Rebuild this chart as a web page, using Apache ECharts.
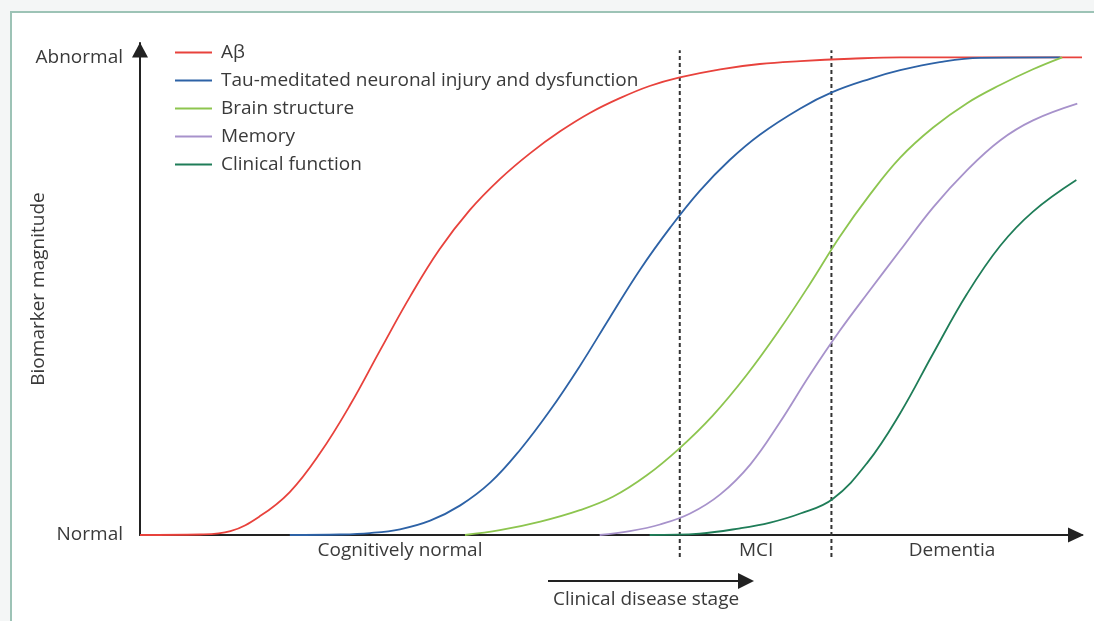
<!DOCTYPE html>
<html>
<head>
<meta charset="utf-8">
<title>Biomarker model</title>
<script src="https://cdn.jsdelivr.net/npm/echarts@6/dist/echarts.min.js"></script>
<style>
  html, body { margin: 0; padding: 0; background: #f4f6f6; }
  #chart { width: 1094px; height: 621px; }
</style>
</head>
<body>
<div id="chart"></div>
<script>
// x = disease stage (0..100 along the axis), y = biomarker magnitude (0 normal, 1 abnormal)
const abeta = [
  [0, 0], [6.4, 0.001], [9.6, 0.008], [12.7, 0.039], [15.9, 0.09], [19.1, 0.171],
  [22.3, 0.272], [25.5, 0.387], [28.7, 0.5], [31.8, 0.598], [35.0, 0.68],
  [38.2, 0.745], [41.4, 0.799], [44.6, 0.845], [47.8, 0.884], [51.0, 0.915],
  [54.1, 0.94], [57.3, 0.958], [61.6, 0.975], [65.8, 0.986], [70.1, 0.992],
  [75.4, 0.997], [80.7, 1.0], [90.0, 1.0], [100, 1.0]
]
const tau = [
  [15.9, 0], [21.2, 0.001], [24.4, 0.004], [27.6, 0.012], [30.8, 0.03], [34.0, 0.062],
  [37.2, 0.11], [40.3, 0.177], [43.5, 0.26], [46.7, 0.354], [49.9, 0.456],
  [53.1, 0.556], [56.3, 0.644], [59.4, 0.72], [62.6, 0.785], [65.8, 0.838],
  [70.1, 0.893], [73.5, 0.927], [77.5, 0.955], [80.7, 0.973], [84.9, 0.99],
  [89.2, 0.999], [97.7, 1.0]
]
const brain = [
  [34.5, 0], [38.2, 0.01], [42.5, 0.028], [46.7, 0.052], [50.2, 0.08], [53.8, 0.125],
  [57.3, 0.182], [60.8, 0.25], [64.4, 0.335], [67.9, 0.43], [71.1, 0.525],
  [74.3, 0.625], [77.5, 0.713], [80.7, 0.79], [84.2, 0.853], [87.8, 0.904],
  [91.3, 0.942], [94.8, 0.975], [97.9, 1.0]
]
const memory = [
  [48.8, 0], [52.0, 0.008], [55.2, 0.022], [58.4, 0.045], [61.6, 0.085], [64.8, 0.148],
  [67.9, 0.235], [71.1, 0.335], [74.3, 0.428], [77.5, 0.513], [80.7, 0.596],
  [84.2, 0.686], [87.8, 0.764], [91.3, 0.826], [94.8, 0.868], [99.5, 0.903]
]
const clinical = [
  [54.1, 0], [59.4, 0.003], [63.7, 0.014], [66.9, 0.026], [70.1, 0.045], [73.5, 0.075],
  [77.2, 0.151], [80.7, 0.255], [84.2, 0.38], [87.8, 0.505], [91.3, 0.605],
  [94.8, 0.677], [99.4, 0.743]
]

const seriesNames  = ['Aβ', 'Tau-meditated neuronal injury and dysfunction', 'Brain structure', 'Memory', 'Clinical function']
const seriesColors = ['#e8423c', '#2d62a6', '#8dc54f', '#a792cb', '#1f7d58']
const seriesData   = [abeta, tau, brain, memory, clinical]

// stage boundaries and labels
const stageBounds  = [57.3, 73.4]
const stageCentres = [27.6, 65.4, 86.2]
const stageNames   = ['Cognitively normal', 'MCI', 'Dementia']
const levelValues  = [0, 1]
const levelNames   = ['Normal', 'Abnormal']

const FONT = '"Open Sans", "Noto Sans", sans-serif'
const TEXT = '#3a3a3a'
const FS   = 19

const chart = echarts.init(document.getElementById('chart'))

const curves = seriesData.map((d, i) => ({
  name: seriesNames[i],
  type: 'line',
  data: d,
  smooth: 0.4,
  symbol: 'none',
  lineStyle: { color: seriesColors[i], width: 1.8 },
  itemStyle: { color: seriesColors[i] },
  z: 3 + i,
}))

// dashed stage boundaries, running a little below the x axis
const bounds = stageBounds.map(x => ({
  type: 'line',
  data: [[x, -0.046], [x, 1.015]],
  symbol: 'none',
  clip: false,
  silent: true,
  lineStyle: { color: '#333', width: 2, type: [4, 3] },
  z: 2,
}))

chart.setOption({
  backgroundColor: '#f4f6f6',
  animation: false,
  textStyle: { fontFamily: FONT },
  grid: { left: 140, right: 12, top: 43, bottom: 86 },
  legend: {
    orient: 'vertical',
    left: 175, top: 43, padding: 0,
    icon: 'rect',
    itemWidth: 37, itemHeight: 2, itemGap: 9,
    data: seriesNames,
    textStyle: { color: TEXT, fontSize: FS, fontFamily: FONT, lineHeight: 19, padding: [0, 0, 0, 4] },
  },
  xAxis: {
    type: 'value', min: 0, max: 100,
    splitLine: { show: false },
    axisTick: { show: false },
    axisLine: {
      onZero: false,
      symbol: ['none', 'triangle'], symbolSize: [15, 16], symbolOffset: [0, -6],
      lineStyle: { color: '#222', width: 2 },
    },
    axisLabel: {
      customValues: stageCentres,
      formatter: v => stageNames[stageCentres.indexOf(v)] || '',
      color: TEXT, fontSize: FS, fontFamily: FONT, margin: 6,
    },
  },
  yAxis: {
    type: 'value', min: 0, max: 1.03,
    splitLine: { show: false },
    axisTick: { show: false },
    axisLine: {
      symbol: ['none', 'triangle'], symbolSize: [16, 15], symbolOffset: [0, -7],
      lineStyle: { color: '#222', width: 2 },
    },
    axisLabel: {
      customValues: levelValues,
      formatter: v => levelNames[levelValues.indexOf(v)] || '',
      color: TEXT, fontSize: FS, fontFamily: FONT, margin: 17,
      verticalAlign: 'middle', padding: [0, 0, 10, 0],
    },
    name: 'Biomarker magnitude',
    nameLocation: 'middle', nameGap: 92, nameRotate: 90,
    nameMoveOverlap: false,
    nameTextStyle: { color: TEXT, fontSize: FS, fontFamily: FONT },
  },
  graphic: [
    {
      type: 'rect', z: -10, silent: true,
      shape: { x: 11, y: 12, width: 1100, height: 620 },
      style: { fill: '#ffffff', stroke: '#9dc3b6', lineWidth: 2 },
    },
    {
      type: 'line', silent: true,
      shape: { x1: 548, y1: 581, x2: 742, y2: 581 },
      style: { stroke: '#222', lineWidth: 2 },
    },
    {
      type: 'polygon', silent: true,
      shape: { points: [[738, 573], [754, 581], [738, 589]] },
      style: { fill: '#222' },
    },
    {
      type: 'text', silent: true, left: 553, top: 590,
      style: { text: 'Clinical disease stage', fill: TEXT, fontSize: FS, fontFamily: FONT },
    },
  ],
  series: [...bounds, ...curves],
})
</script>
</body>
</html>
